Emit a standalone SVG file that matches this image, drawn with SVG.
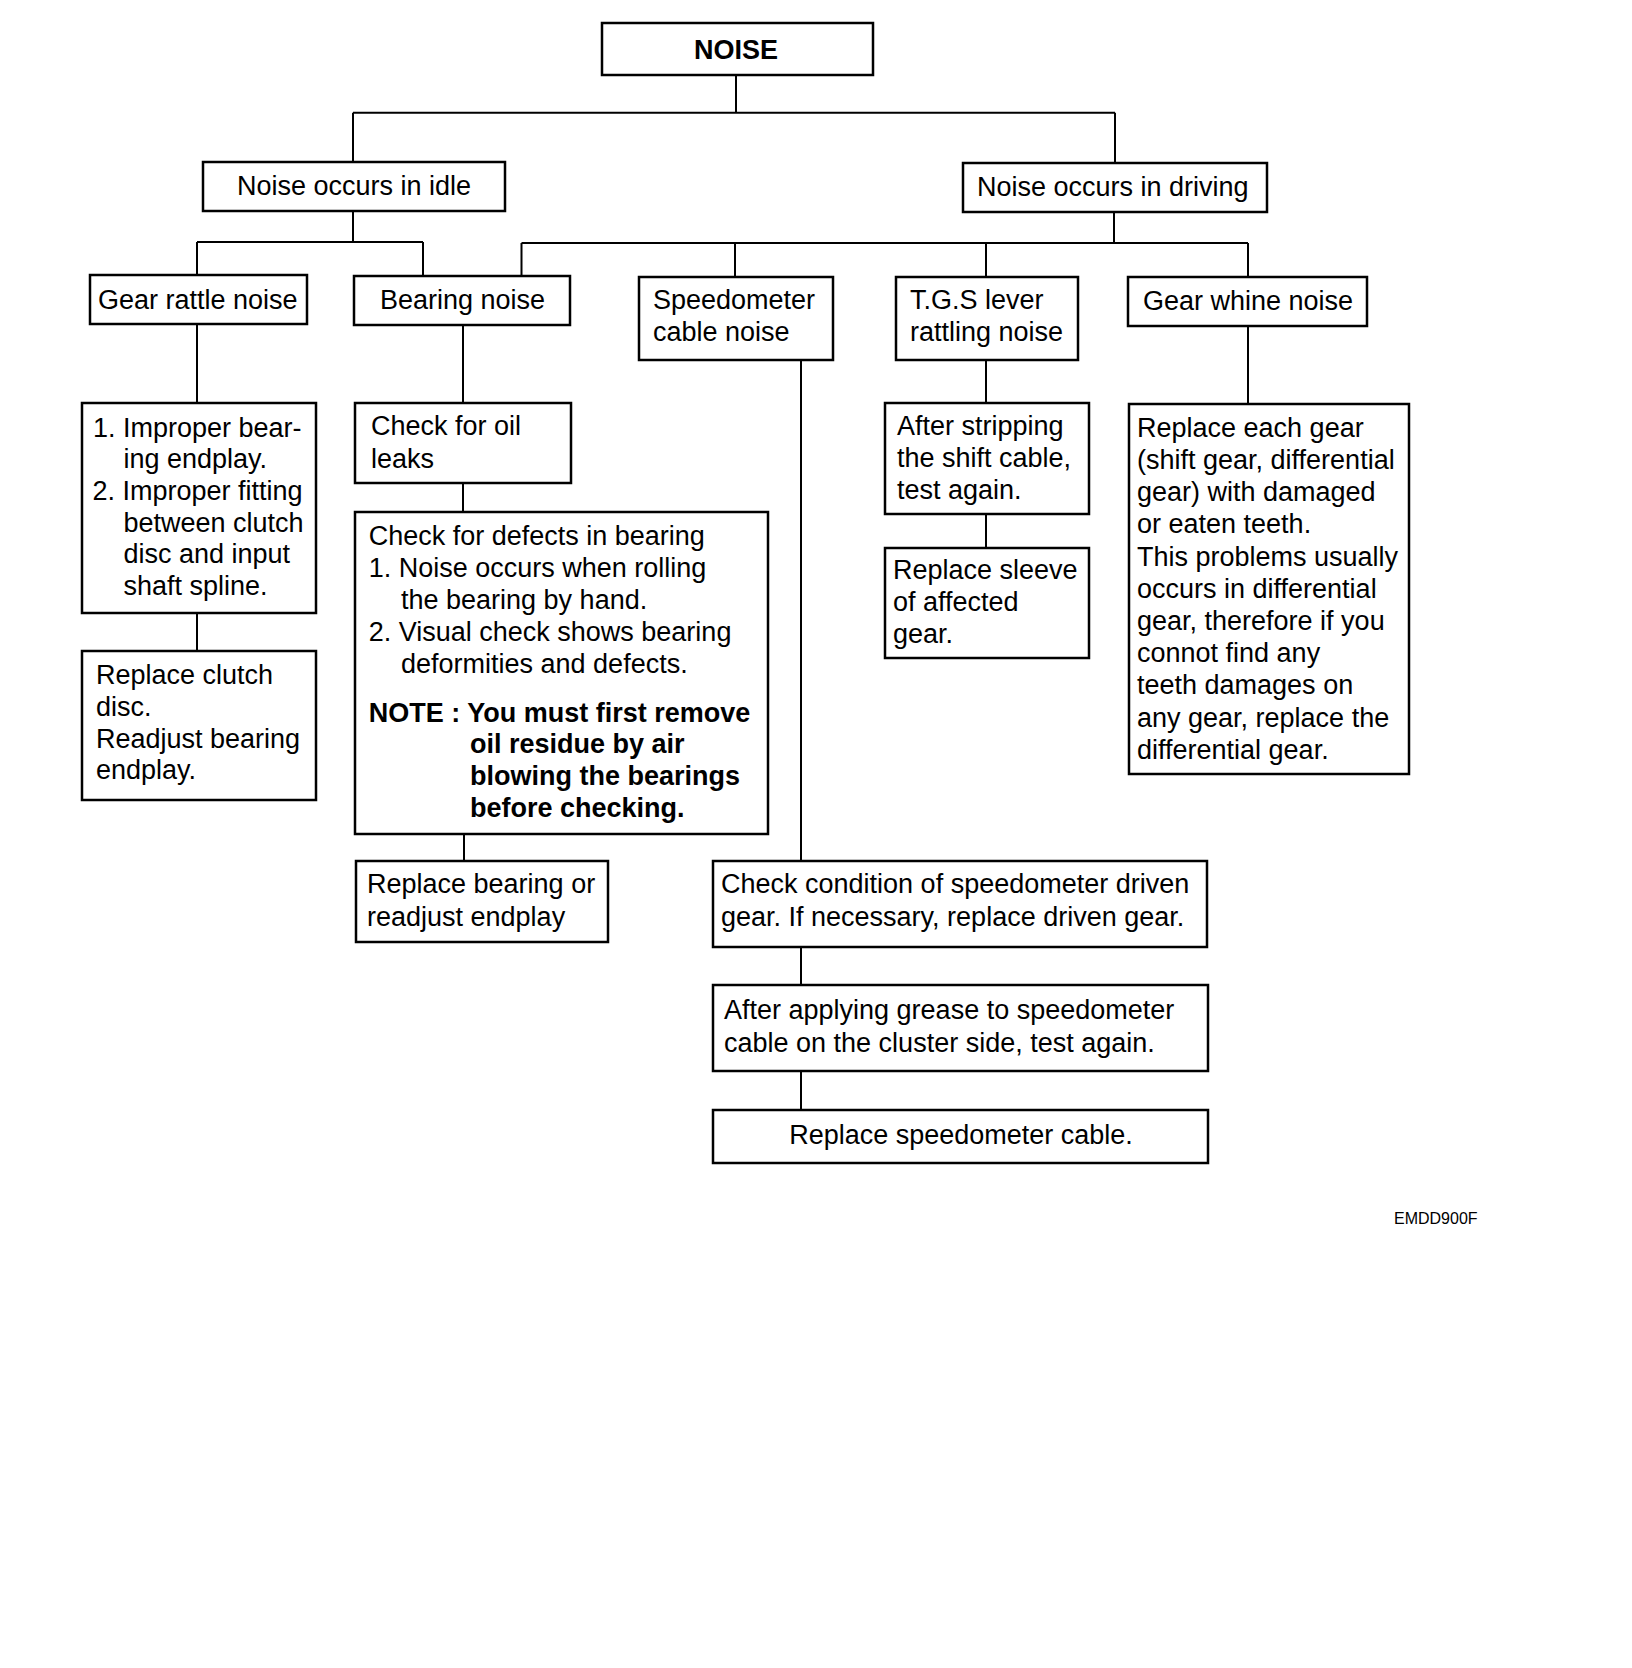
<svg xmlns="http://www.w3.org/2000/svg" width="1632" height="1668" viewBox="0 0 1632 1668">
<style>
rect{fill:#fff;stroke:#000;stroke-width:2.5}
.c path{fill:none;stroke:#000;stroke-width:2}
text{font-family:"Liberation Sans",Arial,sans-serif;font-size:27px;fill:#000}
.b{font-weight:bold}
.m{text-anchor:middle}
</style>
<rect x="0" y="0" width="1632" height="1668" style="stroke:none"/>
<g class="c" id="connectors">
<path d="M736 75V112.7M353 112.7H1115M353 112.7V162M1115 112.7V163"/>
<path d="M353 211V242M197 242H423M197 242V275M423 242V276"/>
<path d="M1114 212V243M521.5 243H1248M521.5 243V276M735 243V277M986 243V277M1248 243V277"/>
<path d="M197 324V403M463 325V403M197 613V651M463 483V512M464 834V861"/>
<path d="M801 360V861M801 947V985M801 1071V1110"/>
<path d="M986 360V403M986 514V548M1248 326V404"/>
</g>
<g id="noise"><rect x="602" y="23" width="271" height="52"/><text class="b m" x="736" y="59">NOISE</text></g>
<g id="idle"><rect x="203" y="162" width="302" height="49"/><text class="m" x="354" y="195">Noise occurs in idle</text></g>
<g id="driving"><rect x="963" y="163" width="304" height="49"/><text x="977" y="196">Noise occurs in driving</text></g>
<g id="rattle"><rect x="90" y="275" width="217" height="49"/><text x="98" y="309">Gear rattle noise</text></g>
<g id="bearing"><rect x="354" y="276" width="216" height="49"/><text x="380" y="309">Bearing noise</text></g>
<g id="speedo"><rect x="639" y="277" width="194" height="83"/><text x="653" y="309">Speedometer</text><text x="653" y="341">cable noise</text></g>
<g id="tgs"><rect x="896" y="277" width="182" height="83"/><text x="910" y="309">T.G.S lever</text><text x="910" y="341">rattling noise</text></g>
<g id="whine"><rect x="1128" y="277" width="239" height="49"/><text x="1143" y="310">Gear whine noise</text></g>
<g id="improper"><rect x="82" y="403" width="234" height="210"/>
<text x="93" y="436.7">1. Improper bear-</text>
<text x="123.5" y="468.3">ing endplay.</text>
<text x="92.5" y="500">2. Improper fitting</text>
<text x="123.5" y="531.7">between clutch</text>
<text x="123.5" y="563.3">disc and input</text>
<text x="123.5" y="595">shaft spline.</text></g>
<g id="clutch"><rect x="82" y="651" width="234" height="149"/>
<text x="96" y="684">Replace clutch</text>
<text x="96" y="716">disc.</text>
<text x="96" y="747.7">Readjust bearing</text>
<text x="96" y="779.3">endplay.</text></g>
<g id="oil"><rect x="355" y="403" width="216" height="80"/>
<text x="371" y="435">Check for oil</text>
<text x="371" y="468">leaks</text></g>
<g id="defects"><rect x="355" y="512" width="413" height="322"/>
<text x="368.7" y="545">Check for defects in bearing</text>
<text x="368.7" y="577">1. Noise occurs when rolling</text>
<text x="401" y="609">the bearing by hand.</text>
<text x="368.7" y="641">2. Visual check shows bearing</text>
<text x="401" y="673">deformities and defects.</text>
<text class="b" x="368.7" y="721.7">NOTE : You must first remove</text>
<text class="b" x="470" y="753">oil residue by air</text>
<text class="b" x="470" y="785">blowing the bearings</text>
<text class="b" x="470" y="816.7">before checking.</text></g>
<g id="replbearing"><rect x="356" y="861" width="252" height="81"/>
<text x="367" y="893.3">Replace bearing or</text>
<text x="367" y="925.7">readjust endplay</text></g>
<g id="checkcond"><rect x="713" y="861" width="494" height="86"/>
<text x="721" y="893">Check condition of speedometer driven</text>
<text x="721" y="925.7">gear. If necessary, replace driven gear.</text></g>
<g id="grease"><rect x="713" y="985" width="495" height="86"/>
<text x="724" y="1019">After applying grease to speedometer</text>
<text x="724" y="1051.7">cable on the cluster side, test again.</text></g>
<g id="replcable"><rect x="713" y="1110" width="495" height="53"/>
<text class="m" x="961" y="1144">Replace speedometer cable.</text></g>
<g id="stripping"><rect x="885" y="403" width="204" height="111"/>
<text x="897" y="435">After stripping</text>
<text x="897" y="467.3">the shift cable,</text>
<text x="897" y="499">test again.</text></g>
<g id="sleeve"><rect x="885" y="548" width="204" height="110"/>
<text x="893" y="579">Replace sleeve</text>
<text x="893" y="610.5">of affected</text>
<text x="893" y="642.7">gear.</text></g>
<g id="eachgear"><rect x="1129" y="404" width="280" height="370"/>
<text x="1137" y="436.7">Replace each gear</text>
<text x="1137" y="468.9">(shift gear, differential</text>
<text x="1137" y="501.1">gear) with damaged</text>
<text x="1137" y="533.3">or eaten teeth.</text>
<text x="1137" y="565.5">This problems usually</text>
<text x="1137" y="597.7">occurs in differential</text>
<text x="1137" y="629.9">gear, therefore if you</text>
<text x="1137" y="662.1">connot find any</text>
<text x="1137" y="694.3">teeth damages on</text>
<text x="1137" y="726.5">any gear, replace the</text>
<text x="1137" y="758.7">differential gear.</text></g>
<g id="code"><text x="1394" y="1224" style="font-size:16px">EMDD900F</text></g>
</svg>
